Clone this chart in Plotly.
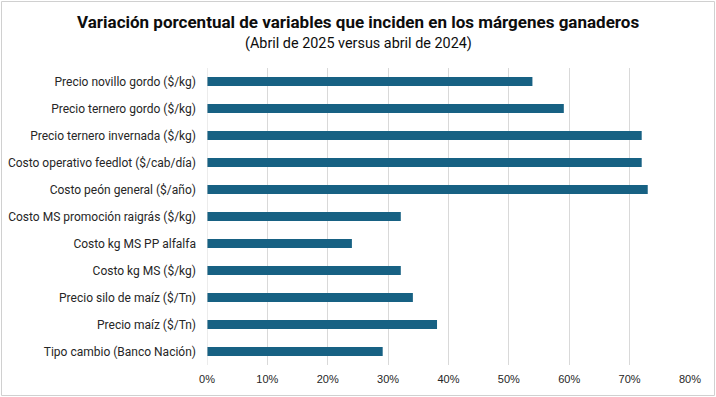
import plotly.graph_objects as go

categories = [
    "Precio novillo gordo ($/kg)",
    "Precio ternero gordo ($/kg)",
    "Precio ternero invernada ($/kg)",
    "Costo operativo feedlot ($/cab/día)",
    "Costo peón general ($/año)",
    "Costo MS promoción raigrás ($/kg)",
    "Costo kg MS PP alfalfa",
    "Costo kg MS ($/kg)",
    "Precio silo de maíz ($/Tn)",
    "Precio maíz ($/Tn)",
    "Tipo cambio (Banco Nación)",
]
values = [0.539, 0.591, 0.72, 0.72, 0.73, 0.321, 0.24, 0.321, 0.341, 0.381, 0.291]
tick_vals = [0, 0.1, 0.2, 0.3, 0.4, 0.5, 0.6, 0.7, 0.8]
tick_text = ["0%", "10%", "20%", "30%", "40%", "50%", "60%", "70%", "80%"]

W, H = 716, 397
ml, mr, mt, mb = 207, 26, 68, 32
pw, ph = W - ml - mr, H - mt - mb

font_family = "Roboto, sans-serif"

fig = go.Figure(go.Bar(
    x=values, y=categories, orientation="h",
    marker=dict(color="#176183", line=dict(width=0)),
))

cx = (W / 2 - ml) / pw

fig.update_layout(
    width=W, height=H,
    margin=dict(l=ml, r=mr, t=mt, b=mb, autoexpand=False),
    paper_bgcolor="white", plot_bgcolor="white",
    bargap=0.667,
    showlegend=False,
    font=dict(family=font_family, color="#404040"),
    xaxis=dict(range=[0, 0.8], tickvals=tick_vals, ticktext=tick_text,
               showgrid=True, gridcolor="#d9d9d9", gridwidth=1,
               zeroline=False, showline=False, ticks="", automargin=False,
               ticklabelstandoff=6,
               tickfont=dict(size=11, color="#262626", family="Liberation Sans, Arial, sans-serif")),
    yaxis=dict(categoryorder="array", categoryarray=categories[::-1],
               autorange=False, range=[-0.5, len(categories) - 0.5],
               showgrid=False, zeroline=False, showline=False, ticks="",
               automargin=False, ticklabelstandoff=10,
               tickfont=dict(size=12, color="#262626", family=font_family)),
    annotations=[
        dict(text="<b>Variación porcentual de variables que inciden en los márgenes ganaderos</b>",
             x=cx, xref="paper", xanchor="center",
             y=(mt - 22) / ph + 1, yref="paper", yanchor="middle",
             showarrow=False, font=dict(size=17, color="#0d0d0d", family=font_family)),
        dict(text="(Abril de 2025 versus abril de 2024)",
             x=cx, xref="paper", xanchor="center",
             y=(mt - 44) / ph + 1, yref="paper", yanchor="middle",
             showarrow=False, font=dict(size=14.4, color="#0d0d0d", family=font_family)),
    ],
    shapes=[
        dict(type="rect", xref="paper", yref="paper",
             x0=(1.5 - ml) / pw, x1=(714.5 - ml) / pw,
             y0=(H - mb - 395.5) / ph, y1=(H - mb - 1.5) / ph,
             line=dict(color="#d0d0d0", width=1), layer="below"),
        dict(type="line", xref="x", yref="paper", x0=0, x1=0, y0=0, y1=1,
             line=dict(color="#d9d9d9", width=1)),
    ],
)

fig.write_html("out.html", config={"displayModeBar": False},
               post_script="document.body.style.margin='0';")
